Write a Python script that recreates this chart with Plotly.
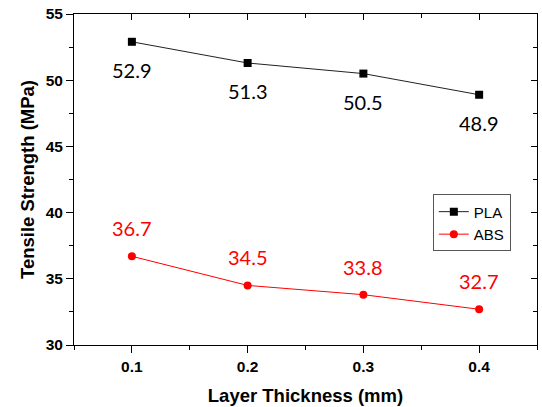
import plotly.graph_objects as go

# Layer thickness (mm) and tensile strength (MPa)
thickness = [0.1, 0.2, 0.3, 0.4]
pla_strength = [52.9, 51.3, 50.5, 48.9]
abs_strength = [36.7, 34.5, 33.8, 32.7]

fig = go.Figure()

fig.add_trace(go.Scatter(
    x=thickness, y=pla_strength, name="PLA", mode="lines+markers",
    line=dict(color="#222222", width=1),
    marker=dict(symbol="square", size=8, color="black"),
))
fig.add_trace(go.Scatter(
    x=thickness, y=abs_strength, name="ABS", mode="lines+markers",
    line=dict(color="red", width=1),
    marker=dict(symbol="circle", size=8, color="red"),
))

# value labels: PLA below its points, ABS above
label_font = "Lato, DejaVu Sans, sans-serif"
for xv, yv in zip(thickness, pla_strength):
    fig.add_annotation(x=xv, y=yv, text=f"{yv:.1f}", showarrow=False,
                       yshift=-28, font=dict(family=label_font, size=20, color="black"))
for xv, yv in zip(thickness, abs_strength):
    fig.add_annotation(x=xv, y=yv, text=f"{yv:.1f}", showarrow=False,
                       yshift=28, font=dict(family=label_font, size=20, color="red"))

tick_font = dict(family="Arial, Liberation Sans, sans-serif", size=15.5, color="black")
title_font = dict(family="Arial, Liberation Sans, sans-serif", size=18.5, color="black")

fig.update_layout(
    width=542, height=407,
    margin=dict(l=74, r=5, t=14, b=62),
    paper_bgcolor="white", plot_bgcolor="white",
    showlegend=True,
    legend=dict(
        x=0.775, y=0.455, xanchor="left", yanchor="top",
        bordercolor="#555555", borderwidth=1, bgcolor="white",
        font=dict(family="Arial, Liberation Sans, sans-serif", size=15, color="black"),
        itemwidth=30,
    ),
    xaxis=dict(
        range=[0.05, 0.45], tickvals=[0.1, 0.2, 0.3, 0.4],
        ticktext=["<b>0.1</b>", "<b>0.2</b>", "<b>0.3</b>", "<b>0.4</b>"],
        ticks="outside", ticklen=7, tickcolor="black", tickwidth=1,
        minor=dict(tickvals=[0.05, 0.15, 0.25, 0.35, 0.45], ticks="outside",
                   ticklen=4, tickcolor="black"),
        showline=True, linecolor="black", linewidth=1,
        showgrid=False, zeroline=False, tickfont=tick_font,
        title=dict(text="<b>Layer Thickness (mm)</b>", font=title_font, standoff=15),
    ),
    yaxis=dict(
        range=[30, 55], tickvals=[30, 35, 40, 45, 50, 55],
        ticktext=[f"<b>{v}</b>" for v in [30, 35, 40, 45, 50, 55]],
        ticks="outside", ticklen=7, tickcolor="black", tickwidth=1,
        minor=dict(tickvals=[32.5, 37.5, 42.5, 47.5, 52.5], ticks="outside",
                   ticklen=4, tickcolor="black"),
        showline=True, linecolor="black", linewidth=1,
        showgrid=False, zeroline=False, tickfont=tick_font,
        title=dict(text="<b>Tensile Strength (MPa)</b>", font=title_font, standoff=6),
    ),
    # frame on top and right with inward ticks
    xaxis2=dict(
        overlaying="x", side="top", range=[0.05, 0.45],
        tickvals=[0.1, 0.2, 0.3, 0.4], showticklabels=False,
        ticks="inside", ticklen=6, tickcolor="black",
        minor=dict(tickvals=[0.05, 0.15, 0.25, 0.35, 0.45], ticks="inside",
                   ticklen=4, tickcolor="black"),
        showline=True, linecolor="black", linewidth=1,
        showgrid=False, zeroline=False,
    ),
    yaxis2=dict(
        overlaying="y", side="right", range=[30, 55],
        tickvals=[30, 35, 40, 45, 50, 55], showticklabels=False,
        ticks="inside", ticklen=6, tickcolor="black",
        minor=dict(tickvals=[32.5, 37.5, 42.5, 47.5, 52.5], ticks="inside",
                   ticklen=4, tickcolor="black"),
        showline=True, linecolor="black", linewidth=1,
        showgrid=False, zeroline=False,
    ),
)

# invisible trace to activate the mirrored axes
fig.add_trace(go.Scatter(x=[0.1], y=[40], xaxis="x2", yaxis="y2",
                         mode="markers", marker=dict(opacity=0),
                         showlegend=False, hoverinfo="skip"))

fig.write_html("out.html")
